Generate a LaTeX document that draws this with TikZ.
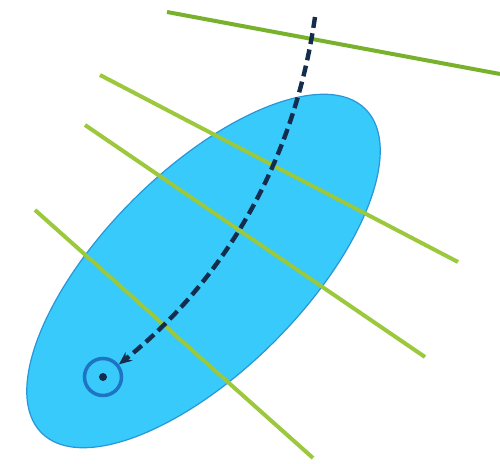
\documentclass[tikz,border=0pt]{standalone}
\usetikzlibrary{shapes.geometric,arrows.meta}
\definecolor{blobfill}{RGB}{55,202,250}
\definecolor{blobline}{RGB}{40,150,215}
\definecolor{lgreen}{RGB}{155,200,60}
\definecolor{dgreen}{RGB}{120,178,45}
\definecolor{navy}{RGB}{20,44,78}
\definecolor{ringblue}{RGB}{30,115,195}
\tikzset{
  blob/.style={ellipse, draw=blobline, line width=1.2pt, fill=blobfill, minimum width=458pt, minimum height=200pt, inner sep=0pt},
  gline/.style={lgreen, line width=4pt},
  gtop/.style={dgreen, line width=4pt},
  path/.style={navy, line width=4.4pt, dash pattern=on 11pt off 5.5pt},
  ring/.style={circle, draw=ringblue, line width=3.5pt, minimum size=37pt, inner sep=0pt},
}
\begin{document}
\begin{tikzpicture}[x=1pt,y=1pt]
\useasboundingbox (0,0) rectangle (500,463);
\node[blob, rotate=45] (e) at (203.5,192) {};
% level lines
\coordinate (a1) at (167,451); \coordinate (a2) at (500,389);
\coordinate (b1) at (100,388); \coordinate (b2) at (458,201);
\coordinate (c1) at (85,338);  \coordinate (c2) at (425,106);
\coordinate (d1) at (35,253);  \coordinate (d2) at (313,5);
\draw[gtop] (a1) -- (a2);
\draw[gline] (b1) -- (b2);
\draw[gline] (c1) -- (c2);
\draw[gline] (d1) -- (d2);
% target
\node[ring] (t) at (103,86) {};
\fill[navy] (t.center) circle (4pt);
\coordinate (s) at (315,446);
\draw[path, -{Stealth[length=13pt,width=11pt]}] (s) .. controls (290,273) and (200,163) .. (t);
\end{tikzpicture}
\end{document}
